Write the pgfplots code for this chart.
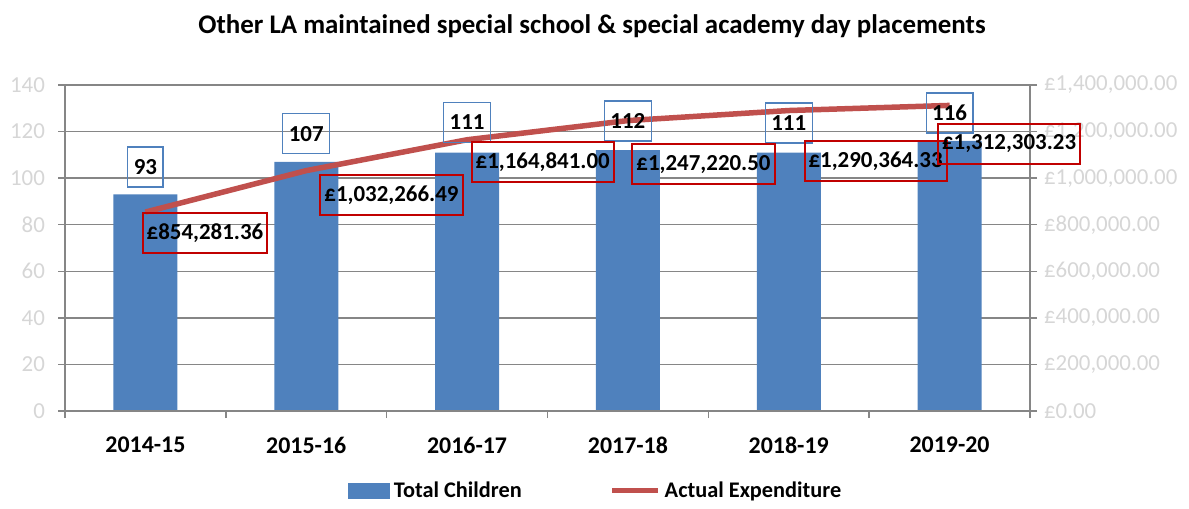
\documentclass[border=0pt]{standalone}
\usepackage{fontspec}
\setmainfont{Carlito}
\usepackage{pgfplots}
\pgfplotsset{compat=1.18}

\definecolor{barblue}{HTML}{4F81BD}
\definecolor{linered}{HTML}{C0504D}
\definecolor{boxred}{HTML}{C00000}
\definecolor{gridgray}{HTML}{868686}
\definecolor{ticklab}{HTML}{D6D6D6}

\tikzset{
  blbox/.style={draw=barblue, line width=0.6bp, font=\bfseries\fontsize{11.5}{13}\selectfont,
    minimum height=20bp, inner xsep=3bp},
  rdbox/.style={draw=boxred, line width=1bp, font=\bfseries\fontsize{11.5}{13}\selectfont,
    minimum height=20bp, inner xsep=2bp},
}

\pgfplotsset{
  base/.style={
    width=482.5bp, height=163bp, scale only axis,
    xmin=-0.5, xmax=5.5,
    axis line style={gridgray, line width=0.75bp},
    tick style={gridgray, line width=0.75bp},
    tick align=outside,
    major tick length=3.5bp, minor tick length=3.5bp,
  }
}

\begin{document}
\begin{tikzpicture}
\begin{axis}[base,
    ymin=0, ymax=140,
    ytick={0,20,40,60,80,100,120,140},
    yticklabels={0,20,40,60,80,100,120,140},
    ytick pos=left,
    yticklabel style={font=\fontsize{11.5}{13}\selectfont, text=ticklab, xshift=-3bp},
    ymajorgrids, grid style={gridgray, line width=0.75bp},
    xtick={0,1,2,3,4,5},
    xticklabels={2014-15,2015-16,2016-17,2017-18,2018-19,2019-20},
    major x tick style={draw=none},
    minor xtick={-0.5,0.5,1.5,2.5,3.5,4.5,5.5},
    xtick pos=bottom,
    xticklabel style={font=\bfseries\fontsize{12}{14}\selectfont, yshift=-6bp},
    ybar, bar width=32bp,
]
\addplot[fill=barblue, draw=none] coordinates {(0,93) (1,107) (2,111) (3,112) (4,111) (5,116)};
\coordinate (bl) at (rel axis cs:0,0);
\coordinate (tr) at (rel axis cs:1,1);
\coordinate (tl) at (rel axis cs:0,1);
\end{axis}

\begin{axis}[base,
    clip mode=individual,
    ymin=0, ymax=1400000,
    scaled y ticks=false,
    ytick={0,200000,400000,600000,800000,1000000,1200000,1400000},
    yticklabels={£0.00,£200{,}000.00,£400{,}000.00,£600{,}000.00,£800{,}000.00,£1{,}000{,}000.00,£1{,}200{,}000.00,£1{,}400{,}000.00},
    ytick pos=right,
    yticklabel style={font=\fontsize{11.5}{13}\selectfont, text=ticklab},
    xtick=\empty,
    legend style={at={(0.551,-0.245)}, anchor=center, draw=none, fill=none,
      legend columns=2, font=\bfseries\fontsize{11.2}{13}\selectfont,
      /tikz/every even column/.append style={column sep=42bp}},
    legend cell align=left,
]
\addlegendimage{legend image code/.code={\fill[barblue] (0bp,-3.75bp) rectangle (20.5bp,3.75bp);}}
\addlegendentry{Total Children}
\addplot[linered, line width=2.75bp, mark=none,
  legend image code/.code={\draw[linered, line width=2.5bp] (0bp,0bp) -- (23bp,0bp);}]
  coordinates {(0,854281.36) (1,1032266.49) (2,1164841.00) (3,1247220.50) (4,1290364.33) (5,1312303.23)};
\addlegendentry{Actual Expenditure}

\node[blbox] at (axis cs:0,1048000) {93};
\node[blbox] at (axis cs:1,1190000) {107};
\node[blbox] at (axis cs:2,1240000) {111};
\node[blbox] at (axis cs:3,1245000) {112};
\node[blbox] at (axis cs:4,1237000) {111};
\node[blbox] at (axis cs:5,1280000) {116};

\node[rdbox] at (axis cs:0.37,764000) {£854,281.36};
\node[rdbox] at (axis cs:1.53,928000) {£1,032,266.49};
\node[rdbox] at (axis cs:2.47,1070000) {£1,164,841.00};
\node[rdbox] at (axis cs:3.47,1060000) {£1,247,220.50};
\node[rdbox] at (axis cs:4.54,1074000) {£1,290,364.33};
\node[rdbox] at (axis cs:5.37,1147000) {£1,312,303.23};
\end{axis}

\node[font=\bfseries\fontsize{13.5}{16}\selectfont] at ([xshift=263.5bp,yshift=29.5bp]tl)
  {Other LA maintained special school \& special academy day placements};
\path[use as bounding box] ([xshift=-32.5bp,yshift=-47bp]bl) rectangle ([xshift=79.5bp,yshift=42.5bp]tr);
\end{tikzpicture}
\end{document}
